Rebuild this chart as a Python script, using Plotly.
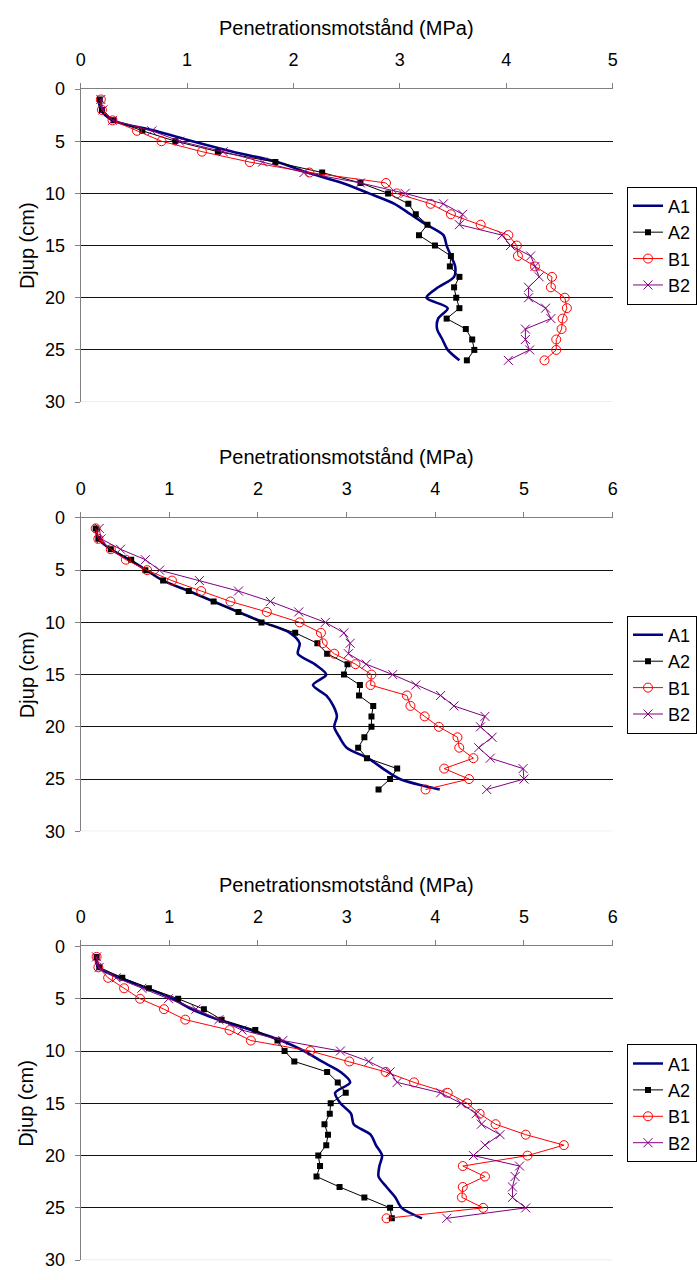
import plotly.graph_objects as go

# Depth below surface (cm)
depth = list(range(1, 27))

# Panel 1 – penetration resistance (MPa)
p1_a1 = [0.17, 0.19, 0.30, 0.70, 1.05, 1.43, 1.85, 2.13, 2.46, 2.71, 2.95, 3.10, 3.25,
         3.41, 3.44, 3.48, 3.52, 3.51, 3.36, 3.25, 3.45, 3.36, 3.35, 3.40, 3.45, 3.56]
p1_a2 = [0.18, 0.20, 0.31, 0.58, 0.89, 1.29, 1.83, 2.27, 2.63, 2.89, 3.08, 3.15, 3.26,
         3.18, 3.33, 3.48, 3.47, 3.56, 3.51, 3.53, 3.56, 3.44, 3.62, 3.68, 3.70, 3.63]
p1_b1 = [0.19, 0.20, 0.30, 0.53, 0.76, 1.14, 1.59, 2.15, 2.87, 2.97, 3.29, 3.48, 3.76,
         4.02, 4.10, 4.11, 4.27, 4.43, 4.42, 4.55, 4.57, 4.53, 4.52, 4.47, 4.47, 4.36]
p1_b2 = [0.19, 0.21, 0.30, 0.67, 0.93, 1.34, 1.71, 2.10, 2.63, 3.05, 3.41, 3.59, 3.56,
         3.96, 4.04, 4.23, 4.27, 4.31, 4.21, 4.21, 4.37, 4.42, 4.18, 4.18, 4.22, 4.02]

# Panel 2
p2_a1 = [0.17, 0.20, 0.34, 0.55, 0.74, 0.93, 1.22, 1.50, 1.78, 2.06, 2.36, 2.47, 2.45,
         2.64, 2.77, 2.62, 2.77, 2.85, 2.89, 2.86, 2.92, 3.00, 3.24, 3.41, 3.60, 4.05]
p2_a2 = [0.17, 0.20, 0.34, 0.57, 0.73, 0.93, 1.22, 1.50, 1.78, 2.04, 2.42, 2.67, 2.78,
         3.01, 2.97, 3.15, 3.14, 3.30, 3.28, 3.28, 3.20, 3.13, 3.23, 3.57, 3.49, 3.36]
p2_b1 = [0.17, 0.20, 0.34, 0.51, 0.75, 1.03, 1.36, 1.69, 2.10, 2.47, 2.71, 2.73, 2.86,
         3.10, 3.28, 3.27, 3.68, 3.72, 3.88, 4.04, 4.25, 4.27, 4.43, 4.10, 4.38, 3.89]
p2_b2 = [0.21, 0.23, 0.45, 0.73, 0.89, 1.34, 1.78, 2.14, 2.46, 2.76, 2.97, 3.04, 3.02,
         3.22, 3.52, 3.78, 4.06, 4.21, 4.56, 4.51, 4.64, 4.49, 4.62, 4.99, 5.00, 4.58]

# Panel 3
p3_a1 = [0.17, 0.20, 0.44, 0.75, 1.04, 1.25, 1.55, 1.92, 2.26, 2.52, 2.72, 2.93, 3.04,
         2.87, 2.93, 3.05, 3.08, 3.27, 3.33, 3.40, 3.37, 3.36, 3.45, 3.55, 3.62, 3.85]
p3_a2 = [0.18, 0.21, 0.47, 0.77, 1.10, 1.39, 1.59, 1.97, 2.22, 2.30, 2.41, 2.78, 2.90,
         2.99, 2.82, 2.81, 2.75, 2.79, 2.77, 2.68, 2.70, 2.66, 2.92, 3.20, 3.49, 3.51]
p3_b1 = [0.18, 0.20, 0.31, 0.49, 0.67, 0.94, 1.18, 1.68, 1.92, 2.59, 3.03, 3.44, 3.76,
         4.14, 4.36, 4.50, 4.68, 5.02, 5.45, 5.04, 4.31, 4.56, 4.31, 4.30, 4.54, 3.45]
p3_b2 = [0.18, 0.21, 0.40, 0.69, 0.99, 1.30, 1.56, 1.82, 2.28, 2.93, 3.25, 3.49, 3.57,
         4.06, 4.29, 4.46, 4.52, 4.73, 4.56, 4.43, 4.95, 4.90, 4.87, 4.87, 5.02, 4.13]

series_names = ["A1", "A2", "B1", "B2"]
panels = [
    {"series": [p1_a1, p1_a2, p1_b1, p1_b2], "xmax": 5},
    {"series": [p2_a1, p2_a2, p2_b1, p2_b2], "xmax": 6},
    {"series": [p3_a1, p3_a2, p3_b1, p3_b2], "xmax": 6},
]

x_title = "Penetrationsmotstånd (MPa)"
y_title = "Djup (cm)"
y_ticks = [0, 5, 10, 15, 20, 25, 30]

# Page geometry (pixels)
W, H = 697, 1280
plot_left, plot_right = 77.3, 621
plot_boxes = [(80.3, 398.3), (516, 834.3), (951.3, 1270)]
FONT = "Liberation Sans, Arial, sans-serif"


def px_x(x):
    return x / W


def px_y(y):
    return 1 - y / H


styles = [
    dict(mode="lines", line=dict(color="#000080", width=2.6, shape="spline", smoothing=0.8)),
    dict(mode="lines+markers", line=dict(color="black", width=1),
         marker=dict(symbol="square", size=6, color="black")),
    dict(mode="lines+markers", line=dict(color="#ff0000", width=1),
         marker=dict(symbol="circle-open", size=9, color="#ff0000", line=dict(width=1))),
    dict(mode="lines+markers", line=dict(color="#800080", width=1),
         marker=dict(symbol="x-thin-open", size=9, color="#800080",
                     line=dict(width=1, color="#800080"))),
]

fig = go.Figure()
layout = dict(
    width=W, height=H,
    margin=dict(l=0, r=0, t=0, b=0),
    paper_bgcolor="white", plot_bgcolor="white",
    font=dict(family=FONT, size=18, color="black"),
    annotations=[], shapes=[],
)

for i, panel in enumerate(panels):
    n = "" if i == 0 else str(i + 1)
    top, bottom = plot_boxes[i]
    legend_key = "legend" + n
    for name, vals, st in zip(series_names, panel["series"], styles):
        fig.add_trace(go.Scatter(
            x=vals, y=depth, name=name, xaxis="x" + n, yaxis="y" + n,
            legend=legend_key, **st,
        ))
    layout["xaxis" + n] = dict(
        domain=[px_x(plot_left), px_x(plot_right)], anchor="y" + n, side="top",
        range=[0, panel["xmax"]], dtick=1, tick0=0,
        showgrid=False, zeroline=False,
        showline=True, linecolor="#808080", linewidth=1,
        ticks="outside", ticklen=5, tickcolor="#808080",
        ticklabelstandoff=10, tickfont=dict(size=18),
    )
    layout["yaxis" + n] = dict(
        domain=[px_y(bottom), px_y(top)], anchor="x" + n,
        range=[30, 0], tickvals=y_ticks,
        showgrid=True, gridcolor="#111111", gridwidth=1, zeroline=False,
        showline=True, linecolor="#808080", linewidth=1,
        ticks="outside", ticklen=5, tickcolor="#808080",
        ticklabelstandoff=6, tickfont=dict(size=18),
    )
    layout[legend_key] = dict(
        x=636 / W, xanchor="left", y=px_y((top + bottom) / 2), yanchor="middle",
        bordercolor="black", borderwidth=1, bgcolor="white",
        font=dict(size=18), itemwidth=30, tracegroupgap=0,
    )
    # light frame line along the bottom of the plot area
    layout["shapes"].append(dict(
        type="line", xref="x" + n, yref="y" + n, x0=0, x1=panel["xmax"], y0=30, y1=30,
        line=dict(color="#d9d9d9", width=1), layer="above",
    ))
    layout["annotations"].append(dict(
        text=x_title, xref="paper", yref="paper",
        x=px_x((plot_left + plot_right) / 2), y=px_y(top - 62),
        xanchor="center", yanchor="middle", showarrow=False, font=dict(size=20),
    ))
    layout["annotations"].append(dict(
        text=y_title, xref="paper", yref="paper", textangle=-90,
        x=px_x(22), y=px_y((top + bottom) / 2),
        xanchor="center", yanchor="middle", showarrow=False, font=dict(size=20),
    ))

fig.update_layout(**layout)
fig.write_html("out.html")
